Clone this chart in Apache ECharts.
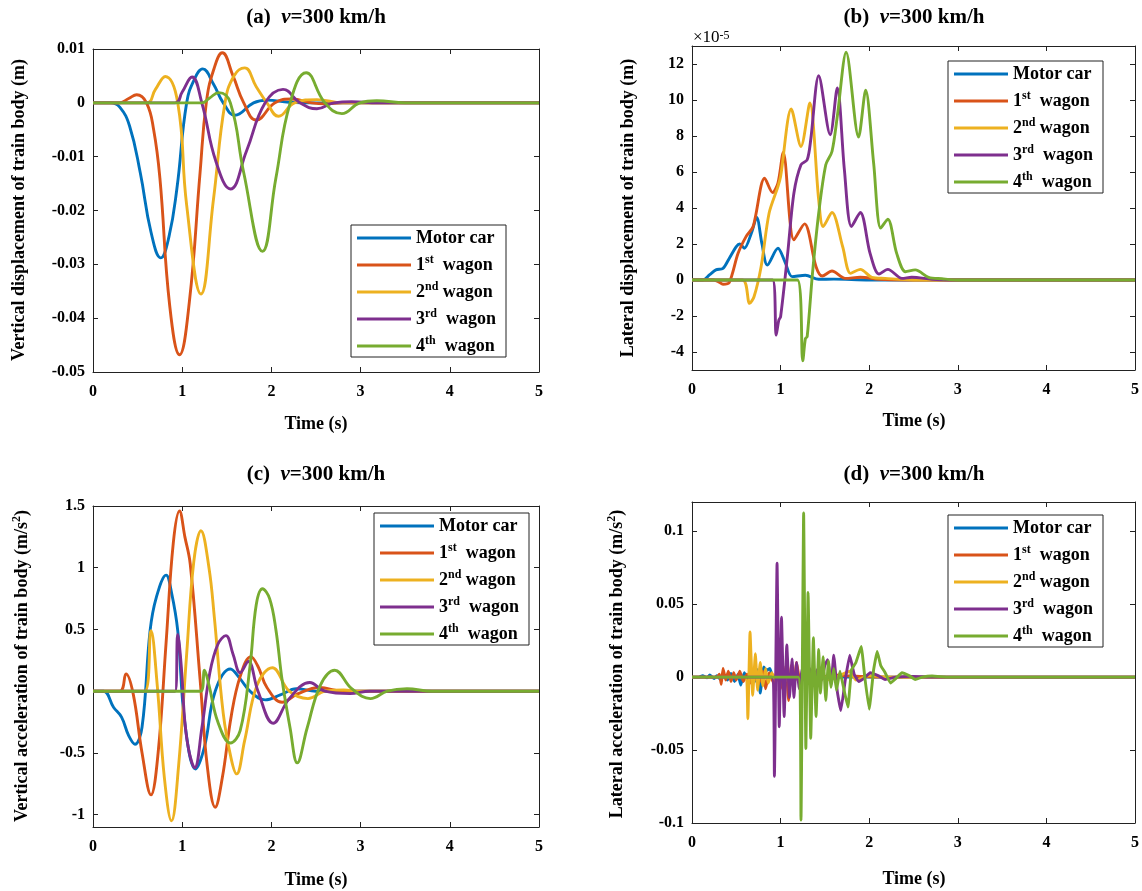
<!DOCTYPE html>
<html>
<head>
<meta charset="utf-8">
<script src="https://cdn.jsdelivr.net/npm/echarts@6/dist/echarts.min.js"></script>
<style>
html,body{margin:0;padding:0;background:#fff;}
#chart{width:1142px;height:891px;}
</style>
</head>
<body>
<div id="chart"></div>
<script>
// ---------- names / colours ----------
const seriesNames = ['Motor car', '1st wagon', '2nd wagon', '3rd wagon', '4th wagon'];
const seriesColors = ['#0072BD', '#D95319', '#EDB120', '#7E2F8E', '#77AC30'];

// ---------- x axis ----------
const timeTicks = [0, 1, 2, 3, 4, 5];

// ---------- (a) vertical displacement (m) ----------
const aTicks = [-0.05, -0.04, -0.03, -0.02, -0.01, 0, 0.01];
const aMotor = [[0,0],[0.2,0],[0.3,-0.0008],[0.41,-0.0043],[0.53,-0.013],[0.65,-0.024],[0.76,-0.0288],[0.85,-0.025],[0.94,-0.016],[1.05,0],[1.14,0.0045],[1.23,0.0063],[1.35,0.0035],[1.46,0],[1.59,-0.0023],[1.8,0],[1.95,0.0005],[2.2,0.0001],[2.5,0],[5,0]];
const a1st = [[0,0],[0.3,0],[0.4,0.0008],[0.49,0.0015],[0.6,0],[0.68,-0.005],[0.75,-0.014],[0.86,-0.0377],[0.97,-0.0468],[1.08,-0.037],[1.2,-0.013],[1.27,0],[1.35,0.006],[1.45,0.0093],[1.57,0.005],[1.69,0],[1.83,-0.0032],[2.04,0],[2.23,0.0007],[2.45,0],[2.6,-0.0002],[2.8,0],[5,0]];
const a2nd = [[0,0],[0.6,0],[0.7,0.0025],[0.81,0.0049],[0.95,0],[1.05,-0.019],[1.21,-0.0355],[1.35,-0.018],[1.48,0],[1.58,0.005],[1.7,0.0065],[1.83,0.003],[1.95,0],[2.08,-0.0025],[2.26,0],[2.51,0.0006],[2.8,0],[5,0]];
const a3rd = [[0,0],[0.92,0],[1.0,0.002],[1.11,0.0048],[1.22,0],[1.38,-0.011],[1.54,-0.016],[1.72,-0.009],[1.93,0],[2.13,0.0025],[2.32,0],[2.51,-0.0011],[2.7,0],[2.9,0.0002],[3.2,0],[5,0]];
const a4th = [[0,0],[1.22,0],[1.3,0.0008],[1.41,0.0019],[1.54,0],[1.69,-0.013],[1.9,-0.0276],[2.05,-0.014],[2.21,0],[2.39,0.0056],[2.6,0],[2.79,-0.002],[2.99,0],[3.18,0.0004],[3.5,0],[5,0]];

// ---------- (b) lateral displacement (x 1e-5 m) ----------
const bTicks = [-4, -2, 0, 2, 4, 6, 8, 10, 12];
const bMotor = [[0,0],[0.12,0],[0.2,0.3],[0.27,0.56],[0.35,0.65],[0.42,1.2],[0.5,1.86],[0.54,2.0],[0.59,1.76],[0.67,2.6],[0.73,3.47],[0.79,2.0],[0.85,0.83],[0.97,1.76],[1.05,1.0],[1.13,0.19],[1.28,0.26],[1.43,0.04],[1.6,0.05],[2.0,0],[5,0]];
const b1st = [[0,0],[0.24,0],[0.3,-0.1],[0.35,-0.24],[0.42,-0.15],[0.52,1.48],[0.61,2.41],[0.69,2.97],[0.82,5.66],[0.91,4.86],[0.97,5.38],[1.03,7.09],[1.15,2.23],[1.27,3.12],[1.4,0.74],[1.47,0.22],[1.58,0.5],[1.73,0.09],[1.9,0.15],[2.11,0.04],[2.4,0],[5,0]];
const b2nd = [[0,0],[0.57,0],[0.65,-1.3],[0.7,-0.93],[0.78,0.74],[0.87,3.71],[0.97,5.19],[1.0,5.75],[1.12,9.5],[1.23,7.42],[1.33,9.83],[1.43,4.45],[1.48,2.97],[1.58,3.75],[1.7,1.86],[1.79,0.37],[1.9,0.59],[2.03,0.15],[2.18,0.09],[2.5,0],[5,0]];
const b3rd = [[0,0],[0.91,0],[0.95,-3.06],[0.98,-2.23],[1.0,-2.04],[1.08,1.48],[1.15,4.82],[1.23,6.4],[1.3,6.68],[1.34,7.79],[1.43,11.35],[1.56,8.07],[1.64,10.67],[1.72,6.12],[1.8,2.97],[1.9,3.75],[2.01,1.48],[2.11,0.33],[2.21,0.59],[2.37,0.09],[2.48,0.15],[2.71,0.04],[2.9,0],[5,0]];
const b4th = [[0,0],[1.19,0],[1.25,-4.49],[1.28,-3.25],[1.3,-3.15],[1.36,0.37],[1.43,3.71],[1.51,6.4],[1.58,7.14],[1.64,9.09],[1.74,12.65],[1.88,7.94],[1.96,10.54],[2.05,6.49],[2.13,2.88],[2.21,3.38],[2.31,1.48],[2.41,0.46],[2.52,0.56],[2.67,0.15],[2.82,0.07],[3.0,0],[5,0]];

// ---------- (c) vertical acceleration (m/s^2) ----------
const cTicks = [-1, -0.5, 0, 0.5, 1, 1.5];
const cMotor = [[0,0],[0.12,0],[0.23,-0.13],[0.32,-0.21],[0.4,-0.36],[0.47,-0.43],[0.55,-0.29],[0.64,0.49],[0.71,0.76],[0.82,0.94],[0.88,0.8],[0.95,0.49],[1.03,-0.26],[1.15,-0.63],[1.25,-0.45],[1.37,0],[1.54,0.18],[1.65,0.1],[1.76,0],[1.93,-0.07],[2.1,-0.03],[2.28,0.02],[2.5,0],[5,0]];
const c1st = [[0,0],[0.3,0],[0.37,0.14],[0.45,-0.02],[0.55,-0.5],[0.65,-0.84],[0.73,-0.5],[0.82,0.4],[0.9,1.2],[0.97,1.46],[1.03,1.25],[1.09,1.03],[1.2,0.1],[1.28,-0.6],[1.37,-0.94],[1.45,-0.7],[1.55,-0.2],[1.65,0.12],[1.77,0.28],[1.85,0.2],[1.95,0.03],[2.12,-0.09],[2.3,-0.02],[2.54,0.03],[2.8,0],[5,0]];
const c2nd = [[0,0],[0.58,0],[0.65,0.49],[0.72,0.05],[0.8,-0.7],[0.88,-1.05],[0.96,-0.6],[1.05,0.3],[1.13,1.05],[1.21,1.3],[1.3,1.0],[1.36,0.6],[1.46,-0.18],[1.55,-0.55],[1.61,-0.67],[1.7,-0.4],[1.84,0.05],[2.01,0.19],[2.2,0],[2.41,-0.06],[2.6,0],[2.81,0.01],[3.0,0],[5,0]];
const c3rd = [[0,0],[0.92,0],[0.95,0.46],[0.99,0.2],[1.03,-0.25],[1.08,-0.5],[1.14,-0.62],[1.22,-0.3],[1.31,0.15],[1.4,0.38],[1.49,0.45],[1.57,0.3],[1.65,0.15],[1.74,0.24],[1.85,0],[2.02,-0.26],[2.2,-0.06],[2.43,0.07],[2.6,0],[2.88,-0.02],[3.1,0],[5,0]];
const c4th = [[0,0],[1.21,0],[1.25,0.17],[1.3,0.05],[1.4,-0.25],[1.54,-0.42],[1.65,-0.32],[1.76,0.2],[1.83,0.7],[1.9,0.83],[1.98,0.75],[2.05,0.5],[2.12,0.09],[2.21,-0.3],[2.29,-0.58],[2.4,-0.3],[2.55,0.05],[2.71,0.17],[2.9,0.02],[3.11,-0.06],[3.3,0],[3.52,0.02],[3.8,0],[5,0]];

// ---------- (d) lateral acceleration (m/s^2) ----------
const dTicks = [-0.1, -0.05, 0, 0.05, 0.1];
const dMotor = [[0,0],[0.08,0],[0.12,0.001],[0.17,-0.0005],[0.2,0.0015],[0.25,-0.001],[0.28,0.001],[0.32,-0.0015],[0.36,0.002],[0.4,-0.002],[0.44,0.0025],[0.48,-0.003],[0.52,0.002],[0.55,-0.0055],[0.59,0.003],[0.63,-0.002],[0.67,0.004],[0.71,-0.003],[0.74,0.005],[0.77,-0.011],[0.81,0.007],[0.84,0.0045],[0.88,0.006],[0.92,-0.002],[0.96,0.002],[1.0,-0.001],[1.1,0.001],[1.2,0],[1.4,0.0005],[1.6,0],[5,0]];
const d1st = [[0,0],[0.28,0],[0.31,0.002],[0.33,-0.005],[0.35,0.006],[0.38,-0.002],[0.41,0.004],[0.44,-0.003],[0.47,0.003],[0.5,-0.002],[0.54,0.004],[0.58,-0.003],[0.62,0.002],[0.66,-0.004],[0.7,0.003],[0.75,-0.005],[0.8,0.004],[0.83,-0.008],[0.87,0.003],[0.92,-0.004],[0.97,0.006],[1.02,-0.008],[1.06,0.008],[1.09,-0.016],[1.12,0.008],[1.15,-0.006],[1.18,0.01],[1.22,-0.004],[1.26,0.005],[1.3,-0.003],[1.35,0.003],[1.45,-0.002],[1.55,0.002],[1.7,0.001],[1.9,0.0005],[2.1,0],[5,0]];
const d2nd = [[0,0],[0.6,0],[0.63,-0.0285],[0.655,0.031],[0.685,-0.0125],[0.715,0.016],[0.74,-0.009],[0.77,0.01],[0.8,-0.006],[0.83,0.006],[0.86,-0.004],[0.9,0.003],[0.95,-0.003],[1.0,0.004],[1.05,-0.003],[1.1,0.003],[1.2,-0.002],[1.3,0.003],[1.45,0.002],[1.55,-0.002],[1.7,0.002],[1.78,0.004],[1.85,-0.002],[2.0,0.001],[2.2,0],[5,0]];
const d3rd = [[0,0],[0.9,0],[0.93,-0.068],[0.96,0.078],[0.985,-0.034],[1.01,0.041],[1.04,-0.027],[1.07,0.022],[1.1,-0.014],[1.13,0.0125],[1.15,-0.014],[1.18,0.01],[1.21,-0.008],[1.25,0.008],[1.29,-0.007],[1.33,0.006],[1.37,-0.006],[1.41,0.005],[1.45,-0.004],[1.5,0.008],[1.53,0.012],[1.57,-0.005],[1.6,0.015],[1.64,-0.01],[1.68,-0.023],[1.73,-0.002],[1.78,0.015],[1.83,0.002],[1.88,-0.003],[1.94,-0.001],[2.01,0.003],[2.1,0.001],[2.18,-0.0016],[2.3,0],[2.5,0.0005],[2.7,0],[5,0]];
const d4th = [[0,0],[1.2,0],[1.23,-0.098],[1.26,0.1125],[1.285,-0.049],[1.31,0.058],[1.34,-0.042],[1.37,0.027],[1.4,-0.027],[1.43,0.019],[1.45,-0.011],[1.48,0.014],[1.51,-0.016],[1.54,0.011],[1.57,-0.007],[1.6,0.006],[1.63,-0.009],[1.67,0.004],[1.72,-0.01],[1.76,-0.0205],[1.8,0.005],[1.85,0.01],[1.91,0.021],[1.95,0],[2.0,-0.022],[2.05,0.005],[2.09,0.0175],[2.13,0.008],[2.18,0.003],[2.24,-0.004],[2.3,-0.001],[2.37,0.003],[2.45,0.001],[2.52,-0.0016],[2.6,0],[2.71,0.0007],[2.9,0],[5,0]];

// ---------- build ----------
const FONT = '"Liberation Serif", "Times New Roman", serif';
const panels = [
  {grid:{left:93, top:49, width:446, height:323}, yMin:-0.05, yMax:0.01, ticks:aTicks, data:[aMotor,a1st,a2nd,a3rd,a4th], smooth:0.45, legend:{left:351, top:225}},
  {grid:{left:692, top:46, width:445, height:324}, yMin:-5, yMax:13, ticks:bTicks, data:[bMotor,b1st,b2nd,b3rd,b4th], smooth:0.3, legend:{left:948, top:61}},
  {grid:{left:93, top:506, width:446, height:321}, yMin:-1.1, yMax:1.5, ticks:cTicks, data:[cMotor,c1st,c2nd,c3rd,c4th], smooth:0.4, legend:{left:374, top:513}},
  {grid:{left:692, top:502, width:445, height:321}, yMin:-0.1, yMax:0.12, ticks:dTicks, data:[dMotor,d1st,d2nd,d3rd,d4th], smooth:0.1, legend:{left:948, top:515}}
];

const axisLineStyle = {show:true, onZero:false, lineStyle:{color:'#222', width:1}};
const tickStyle = (vals) => ({show:true, inside:true, length:5, customValues:vals, lineStyle:{color:'#222'}});
const labelStyle = {color:'#000', fontFamily:FONT, fontWeight:'bold', fontSize:16};
const grid = [], xAxis = [], yAxis = [], series = [], legend = [];

const legendText = {
  'Motor car':'{n|Motor car}',
  '1st wagon':'{n|1}{s|st}{n|  wagon}',
  '2nd wagon':'{n|2}{s|nd}{n| wagon}',
  '3rd wagon':'{n|3}{s|rd}{n|  wagon}',
  '4th wagon':'{n|4}{s|th}{n|  wagon}'
};

panels.forEach((p, i) => {
  grid.push(Object.assign({containLabel:false}, p.grid));
  xAxis.push({type:'value', gridIndex:i, min:0, max:5, interval:1, position:'bottom',
    axisLine:axisLineStyle, axisTick:tickStyle(timeTicks),
    axisLabel:Object.assign({margin:12, customValues:timeTicks}, labelStyle), splitLine:{show:false}});
  xAxis.push({type:'value', gridIndex:i, min:0, max:5, interval:1, position:'top',
    axisLine:axisLineStyle, axisTick:tickStyle(timeTicks),
    axisLabel:{show:false}, splitLine:{show:false}});
  yAxis.push({type:'value', gridIndex:i, min:p.yMin, max:p.yMax, position:'left',
    axisLine:axisLineStyle, axisTick:tickStyle(p.ticks),
    axisLabel:Object.assign({margin:8, customValues:p.ticks, formatter:v => String(v)}, labelStyle), splitLine:{show:false}});
  yAxis.push({type:'value', gridIndex:i, min:p.yMin, max:p.yMax, position:'right',
    axisLine:axisLineStyle, axisTick:tickStyle(p.ticks),
    axisLabel:{show:false}, splitLine:{show:false}});
  p.data.forEach((d, k) => {
    series.push({type:'line', name:seriesNames[k], xAxisIndex:2*i, yAxisIndex:2*i, data:d,
      showSymbol:false, symbol:'none', smooth:p.smooth,
      lineStyle:{width:2.9, color:seriesColors[k]}, itemStyle:{color:seriesColors[k]}, animation:false});
  });
  legend.push({orient:'vertical', left:p.legend.left, top:p.legend.top, data:seriesNames,
    icon:'rect', itemWidth:54, itemHeight:3, itemGap:7,
    padding:[4, 10, 2, 6], backgroundColor:'#fff', borderColor:'#222', borderWidth:1, borderRadius:0,
    selectedMode:false,
    formatter:name => legendText[name],
    textStyle:{color:'#000', fontFamily:FONT, fontWeight:'bold', fontSize:18,
      rich:{n:{fontFamily:FONT, fontWeight:'bold', fontSize:18, lineHeight:22, color:'#000'},
            s:{fontFamily:FONT, fontWeight:'bold', fontSize:12, lineHeight:10, verticalAlign:'top', color:'#000'}}}});
});

// texts
const titleFont = 'bold 21px ' + FONT;
const richTitle = {i:{fontFamily:FONT, fontWeight:'bold', fontStyle:'italic', fontSize:21, fill:'#000'}};
function txt(x, y, text, font, rot, rich) {
  return {type:'text', x:x, y:y, rotation:rot || 0, silent:true,
    style:{text:text, font:font, fill:'#000', align:'center', verticalAlign:'middle', rich:rich || undefined}};
}
const axisFont = 'bold 18px ' + FONT;
const supRich = {s:{fontFamily:FONT, fontWeight:'bold', fontSize:12, verticalAlign:'top', lineHeight:10, fill:'#000'},
                 n:{fontFamily:FONT, fontWeight:'bold', fontSize:18, lineHeight:22, fill:'#000'}};
const graphic = [
  txt(316, 18, '(a)  {i|v}=300 km/h', titleFont, 0, richTitle),
  txt(914, 18, '(b)  {i|v}=300 km/h', titleFont, 0, richTitle),
  txt(316, 475, '(c)  {i|v}=300 km/h', titleFont, 0, richTitle),
  txt(914, 475, '(d)  {i|v}=300 km/h', titleFont, 0, richTitle),
  txt(316, 424, 'Time (s)', axisFont),
  txt(914, 421, 'Time (s)', axisFont),
  txt(316, 880, 'Time (s)', axisFont),
  txt(914, 879, 'Time (s)', axisFont),
  txt(19, 210, 'Vertical displacement of train body (m)', axisFont, Math.PI/2),
  txt(628, 208, 'Lateral displacement of train body (m)', axisFont, Math.PI/2),
  txt(22, 666, '{n|Vertical acceleration of train body (m/s}{s|2}{n|)}', axisFont, Math.PI/2, supRich),
  txt(617, 664, '{n|Lateral acceleration of train body (m/s}{s|2}{n|)}', axisFont, Math.PI/2, supRich),
  {type:'text', x:693, y:38, silent:true,
    style:{text:'×10{e|-5}', font:'17px ' + FONT, fill:'#000', align:'left', verticalAlign:'middle',
      rich:{e:{fontFamily:FONT, fontSize:12, verticalAlign:'top', lineHeight:8, fill:'#000'}}}}
];

const chart = echarts.init(document.getElementById('chart'), null, {renderer:'canvas'});
chart.setOption({backgroundColor:'#fff', animation:false, grid, xAxis, yAxis, series, legend, graphic});
</script>
</body>
</html>
